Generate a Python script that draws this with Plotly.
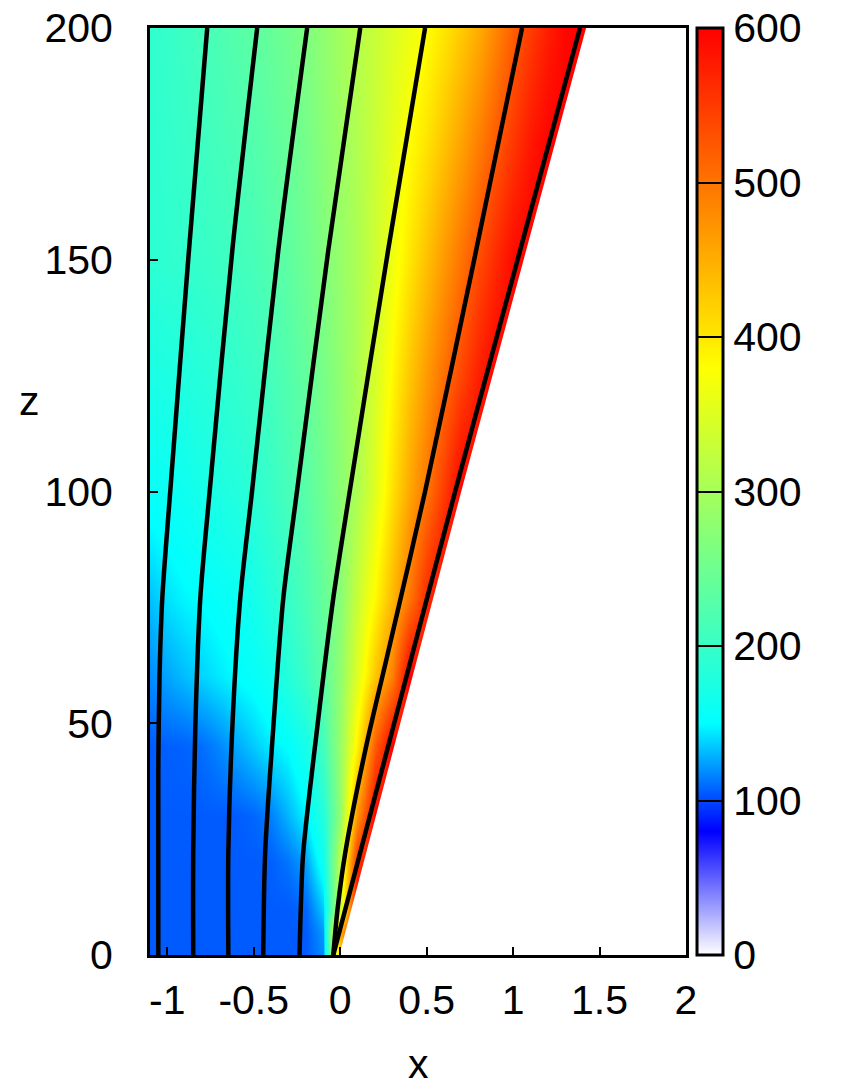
import plotly.graph_objects as go

# ---------------- data ----------------
x_cols = [-1.1, -1.0, -0.9, -0.8, -0.7, -0.6, -0.5, -0.4, -0.3, -0.2, -0.1, 0.0,
          0.1, 0.2, 0.3, 0.4, 0.5, 0.6, 0.7, 0.8, 0.9, 1.0, 1.1, 1.2, 1.3, 1.4, 1.5]
z_levels = [0, 5, 10, 20, 30, 45, 60, 77, 100, 125, 150, 175, 200]

row_z0 = [105]*10 + [118, 420] + [600]*15
row_z5 = [105]*10 + [122, 450] + [600]*15
row_z10 = [105]*9 + [108, 135, 330] + [600]*15
row_z20 = [105]*7 + [106, 112, 125, 160, 320, 560] + [600]*14
row_z30 = [105]*6 + [108, 115, 130, 147, 180, 280, 470] + [600]*14
row_z45 = [105, 106, 107, 110, 117, 126, 136, 145, 151, 170, 210, 285, 390, 520] + [600]*13
row_z60 = [118, 125, 132, 138, 144, 150, 155, 165, 182, 203, 232, 280, 350, 430, 490] + [600]*12
row_z77 = [133, 142, 148, 151, 155, 159, 168, 183, 199, 217, 240, 272, 330, 385, 440, 497, 565] + [600]*10
row_z100 = [157, 159, 163, 170, 175, 181, 190, 200, 214, 230, 250, 275, 305, 352, 405, 455, 500, 550] + [600]*9
row_z125 = [174, 176, 179, 184, 189, 195, 202, 212, 224, 239, 258, 280, 305, 343, 385, 428, 468, 505,
            540, 575] + [600]*7
row_z150 = [189, 192, 195, 199, 203, 208, 214, 224, 235, 249, 266, 285, 305, 335, 365, 400, 435, 468,
            500, 535, 565, 592] + [600]*5
row_z175 = [191, 195, 200, 205, 211, 217, 224, 233, 243, 256, 273, 290, 309, 332, 356, 380, 405, 432,
            460, 492, 523, 553, 580, 598] + [600]*3
row_z200 = [193, 198, 205, 212, 219, 226, 234, 242, 252, 264, 280, 296, 313, 330, 347, 363, 380, 402,
            425, 452, 485, 518, 548, 575, 595, 600, 600]

field = [row_z0, row_z5, row_z10, row_z20, row_z30, row_z45, row_z60, row_z77,
         row_z100, row_z125, row_z150, row_z175, row_z200]

# flow lines (x, z)
line1_z = [0, 40, 60, 77, 100, 150, 200]
line1_x = [-1.052, -1.052, -1.045, -1.029, -0.983, -0.879, -0.769]
line2_z = [0, 22, 49, 77, 100, 152, 200]
line2_x = [-0.850, -0.850, -0.838, -0.809, -0.755, -0.624, -0.480]
line3_z = [0, 22, 49, 77, 100, 152, 200]
line3_x = [-0.647, -0.647, -0.624, -0.578, -0.510, -0.358, -0.191]
line4_z = [0, 22, 49, 77, 100, 152, 200]
line4_x = [-0.445, -0.434, -0.387, -0.329, -0.250, -0.069, 0.116]
line5_z = [0, 10, 22, 49, 77, 100, 152, 200]
line5_x = [-0.235, -0.228, -0.214, -0.133, -0.040, 0.055, 0.277, 0.491]
line6_z = [0, 10, 22, 45, 65, 100, 150, 200]
line6_x = [-0.040, -0.015, 0.029, 0.150, 0.275, 0.491, 0.775, 1.052]
line7_z = [0, 50, 100, 150, 200]
line7_x = [-0.040, 0.3125, 0.665, 1.026, 1.387]

lines = [(line1_x, line1_z), (line2_x, line2_z), (line3_x, line3_z), (line4_x, line4_z),
         (line5_x, line5_z), (line6_x, line6_z), (line7_x, line7_z)]

cb_ticks = [0, 100, 200, 300, 400, 500, 600]
x_ticks = [-1, -0.5, 0, 0.5, 1, 1.5, 2]
x_ticktext = ['-1', '-0.5', '0', '0.5', '1', '1.5', '2']
z_ticks = [0, 50, 100, 150, 200]

# ---------------- figure ----------------
FONT = 'Liberation Sans, Arial, sans-serif'
FS = 41

colorscale = [[0.0, 'rgb(255,255,255)'],
              [80/600, 'rgb(0,0,255)'],
              [150/600, 'rgb(0,255,255)'],
              [380/600, 'rgb(255,255,0)'],
              [1.0, 'rgb(255,0,0)']]

fig = go.Figure()
fig.add_trace(go.Heatmap(
    x=x_cols, y=z_levels, z=field, zsmooth='best',
    colorscale=colorscale, zmin=0, zmax=600,
    colorbar=dict(
        thickness=26, thicknessmode='pixels', len=1, lenmode='fraction',
        x=1.0205, xanchor='left', xpad=0, y=0.5, yanchor='middle', ypad=0,
        outlinewidth=3, outlinecolor='black',
        tickmode='array', tickvals=cb_ticks, ticks='inside', ticklen=26,
        tickwidth=2, tickcolor='black', ticklabeloverflow='allow',
        tickprefix='\u00a0\u00a0\u00a0',
        tickfont=dict(family=FONT, size=FS, color='black')),
    hoverinfo='skip'))

# white region beyond the slab surface
edge_off = 0.035
wx = [v + edge_off for v in line7_x] + [2.3, 2.3]
wz = list(line7_z) + [line7_z[-1], line7_z[0]]
fig.add_trace(go.Scatter(x=wx, y=wz, mode='lines', fill='toself', fillcolor='white',
                         line=dict(width=0, color='white'), hoverinfo='skip'))

for lx, lz in lines:
    fig.add_trace(go.Scatter(x=lx, y=lz, mode='lines',
                             line=dict(color='black', width=4.5, shape='spline', smoothing=0.8),
                             hoverinfo='skip'))

# page body adds an 8 px margin, so the figure is shifted by 8 px
fig.update_layout(
    width=845, height=1075,
    margin=dict(l=142, r=167, t=20, b=128, autoexpand=False),
    plot_bgcolor='white', paper_bgcolor='white', showlegend=False,
    font=dict(family=FONT, size=FS, color='black'),
    xaxis=dict(range=[-1.1, 2], tickmode='array', tickvals=x_ticks, ticktext=x_ticktext,
               ticks='inside', ticklen=8, tickwidth=2, tickcolor='black',
               showline=True, linewidth=3, linecolor='black', mirror=True,
               showgrid=False, zeroline=False, ticklabelstandoff=7,
               ticklabeloverflow='allow',
               tickfont=dict(family=FONT, size=FS, color='black')),
    yaxis=dict(range=[0, 200], tickmode='array', tickvals=z_ticks,
               ticks='inside', ticklen=8, tickwidth=2, tickcolor='black',
               showline=True, linewidth=3, linecolor='black', mirror=True,
               showgrid=False, zeroline=False, ticklabelstandoff=26,
               ticklabeloverflow='allow',
               tickfont=dict(family=FONT, size=FS, color='black')),
    annotations=[
        dict(text='z', x=-0.224, y=0.598, xref='paper', yref='paper', showarrow=False,
             xanchor='center', yanchor='middle', font=dict(family=FONT, size=FS, color='black')),
        dict(text='x', x=0.5, y=-0.118, xref='paper', yref='paper', showarrow=False,
             xanchor='center', yanchor='middle', font=dict(family=FONT, size=FS, color='black')),
    ])

fig.write_html('out.html')
